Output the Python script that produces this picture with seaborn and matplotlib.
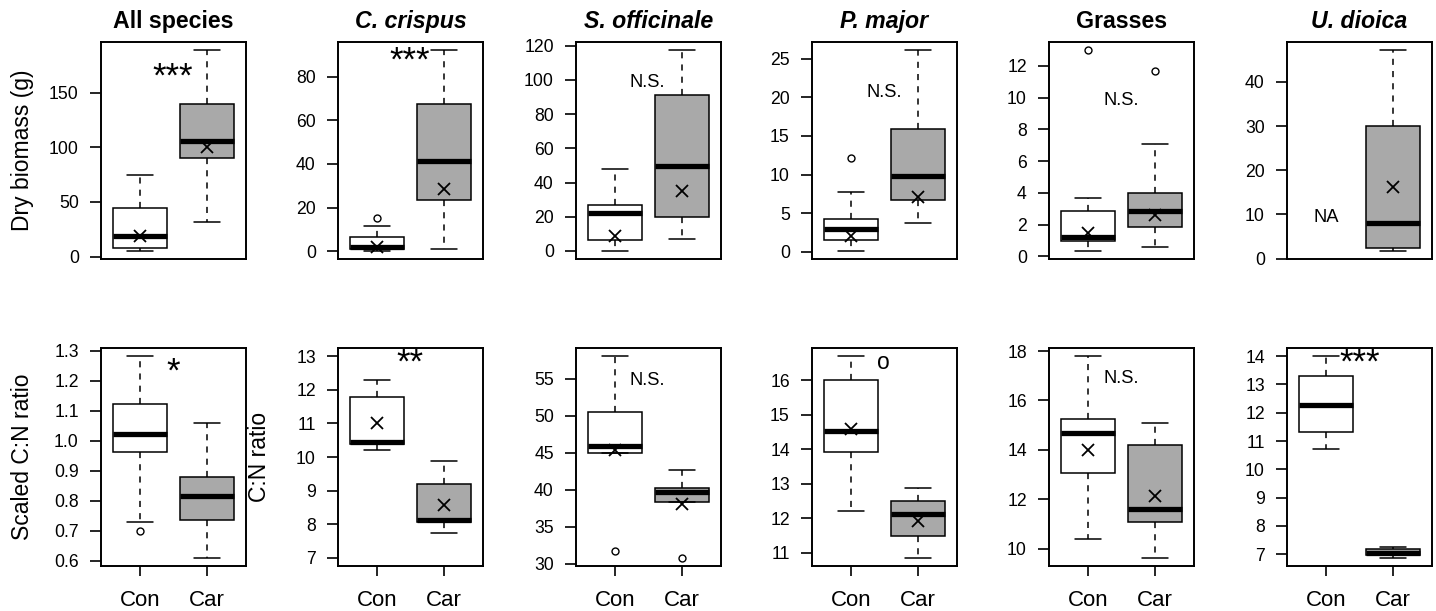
import numpy as np
import pandas as pd
import matplotlib
matplotlib.use("Agg")
import matplotlib.pyplot as plt
import seaborn as sns

# Panels and groups
species = ["All species", "C. crispus", "S. officinale", "P. major", "Grasses", "U. dioica"]
italic = [False, True, True, True, False, True]
groups = ["Con", "Car"]

# Box summaries: [lower whisker, Q1, median, Q3, upper whisker]
mass_con = [[5.2, 7.9, 19.2, 44.2, 75.0],
            [0.15, 1.1, 2.0, 6.6, 11.5],
            [0.0, 6.2, 22.2, 26.9, 48.1],
            [0.13, 1.5, 3.0, 4.2, 7.76],
            [0.34, 0.97, 1.22, 2.84, 3.70],
            None]
mass_car = [[32.0, 90.5, 106.0, 139.6, 189.0],
            [1.1, 23.7, 41.5, 67.5, 92.2],
            [6.8, 19.9, 49.5, 91.4, 117.5],
            [3.75, 6.77, 9.83, 15.95, 26.1],
            [0.59, 1.85, 2.88, 4.01, 7.10],
            [1.73, 2.34, 8.1, 30.1, 47.2]]
mass_con_mean = [19.2, 2.0, 8.6, 2.1, 1.49, None]
mass_car_mean = [100.0, 28.7, 35.3, 7.1, 2.59, 16.2]
mass_con_out = [[], [15.3], [], [12.1], [13.0], []]
mass_car_out = [[], [], [], [], [11.69], []]
mass_notes = ["***", "***", "N.S.", "N.S.", "N.S.", "NA"]
mass_range = [None] * 6

cn_con = [[0.730, 0.963, 1.024, 1.123, 1.283],
          [10.20, 10.40, 10.45, 11.79, 12.29],
          [45.0, 45.0, 45.87, 50.48, 58.03],
          [12.21, 13.93, 14.52, 16.0, 16.70],
          [10.37, 13.05, 14.68, 15.27, 17.80],
          [10.72, 11.32, 12.27, 13.30, 14.0]]
cn_car = [[0.609, 0.736, 0.815, 0.880, 1.061],
          [7.74, 8.07, 8.13, 9.21, 9.88],
          [38.27, 38.27, 39.63, 40.17, 42.6],
          [10.85, 11.49, 12.13, 12.50, 12.87],
          [9.62, 11.08, 11.59, 14.2, 15.08],
          [6.87, 6.99, 7.06, 7.17, 7.24]]
cn_con_mean = [None, 11.0, 45.37, 14.6, 14.0, None]
cn_car_mean = [None, 8.57, 38.05, 11.93, 12.14, None]
cn_con_out = [[0.700], [], [31.67], [], [], []]
cn_car_out = [[], [], [30.77], [], [], []]
cn_notes = ["*", "**", "N.S.", "o", "N.S.", "***"]
cn_range = [None, (7, 13), None, None, None, None]

# y ticks per panel
mass_ticks = [[0, 50, 100, 150], [0, 20, 40, 60, 80], [0, 20, 40, 60, 80, 100, 120],
              [0, 5, 10, 15, 20, 25], [0, 2, 4, 6, 8, 10, 12], [0, 10, 20, 30, 40]]
cn_ticks = [[0.6, 0.7, 0.8, 0.9, 1.0, 1.1, 1.2, 1.3], [7, 8, 9, 10, 11, 12, 13],
            [30, 35, 40, 45, 50, 55], [11, 12, 13, 14, 15, 16],
            [10, 12, 14, 16, 18], [7, 8, 9, 10, 11, 12, 13, 14]]

# annotation placement (x in category units, y in data units)
mass_note_xy = [(0.49, 170), (0.49, 89.8), (0.48, 99.7), (0.49, 20.9), (0.49, 9.94), (0.0, 9.8)]
cn_note_xy = [(0.50, 1.25), (0.49, 12.99), (0.48, 54.95), (0.49, 16.5), (0.49, 16.98), (0.51, 13.98)]

fills = {"Con": "white", "Car": "#a9a9a9"}

sns.set_style("ticks")
plt.rcParams["font.family"] = ["Liberation Sans", "DejaVu Sans"]
plt.rcParams.update({"text.color": "black", "axes.labelcolor": "black",
                     "xtick.color": "black", "ytick.color": "black"})

W, H = 1436, 611
fig = plt.figure(figsize=(W / 100, H / 100), dpi=100)
lefts = [101, 338, 576, 812, 1049, 1287]
aw = 145
rows = [(42, 259), (348, 566)]


def draw_panel(ax, con, car, con_mean, car_mean, con_out, car_out, ticks, note,
               note_xy, yrange, bottom):
    recs = []
    for g, st in zip(groups, [con, car]):
        if st is not None:
            recs += [{"group": g, "value": v} for v in st]
    df = pd.DataFrame(recs)
    sns.boxplot(data=df, x="group", y="value", hue="group", order=groups,
                hue_order=groups, palette=fills, width=0.8, whis=(0, 100),
                linecolor="black", linewidth=1.1, fliersize=0, legend=False,
                medianprops={"linewidth": 3.8},
                whiskerprops={"linestyle": (0, (4, 4))},
                ax=ax)
    # means
    for i, m in enumerate([con_mean, car_mean]):
        if m is not None:
            ax.plot([i], [m], marker="x", ms=8, mew=1.3, color="black", ls="none", zorder=5)
    # outliers
    for i, outs in enumerate([con_out, car_out]):
        if outs:
            ax.plot([i] * len(outs), outs, marker="o", ms=5, mew=1.0, mfc="white",
                    mec="black", ls="none", zorder=5)
    # R-like ranges (4% padding)
    if yrange is None:
        vals = [v for st in [con, car] if st is not None for v in st] + con_out + car_out
        lo, hi = min(vals), max(vals)
    else:
        lo, hi = yrange
    ext = 0.04 * (hi - lo)
    ax.set_ylim(lo - ext, hi + ext)
    ax.set_xlim(-0.58, 1.58)
    ax.set_yticks(ticks)
    ax.set_yticklabels([f"{t:.1f}" if isinstance(t, float) else f"{t}" for t in ticks])
    ax.tick_params(axis="y", labelsize=12.7, length=8, width=1.2, pad=8)
    if bottom:
        ax.set_xticks([0, 1])
        ax.set_xticklabels(groups)
        ax.tick_params(axis="x", labelsize=16, length=7.5, width=1.2, pad=10)
    else:
        ax.set_xticks([])
    ax.set_xlabel("")
    ax.set_ylabel("")
    for s in ax.spines.values():
        s.set_visible(True)
        s.set_linewidth(1.4)
        s.set_color("black")
    # significance note
    if note.startswith("*"):
        fs, dy = 25, -0.18 * 25
    elif note == "o":
        fs, dy = 16.5, 0
    else:
        fs, dy = 13.2, -1.3
    ax.annotate(note, note_xy, xytext=(0, dy), textcoords="offset points",
                ha="center", va="center", fontsize=fs)


for c in range(6):
    for r, (top, bot) in enumerate(rows):
        ax = fig.add_axes([lefts[c] / W, 1 - bot / H, aw / W, (bot - top) / H])
        if r == 0:
            draw_panel(ax, mass_con[c], mass_car[c], mass_con_mean[c], mass_car_mean[c],
                       mass_con_out[c], mass_car_out[c], mass_ticks[c], mass_notes[c],
                       mass_note_xy[c], mass_range[c], False)
            ax.set_title(species[c], fontsize=16.7, fontweight="bold",
                         fontstyle="italic" if italic[c] else "normal", pad=10)
            if c == 0:
                ax.set_ylabel("Dry biomass (g)", fontsize=16.5)
        else:
            draw_panel(ax, cn_con[c], cn_car[c], cn_con_mean[c], cn_car_mean[c],
                       cn_con_out[c], cn_car_out[c], cn_ticks[c], cn_notes[c],
                       cn_note_xy[c], cn_range[c], True)
            if c == 0:
                ax.set_ylabel("Scaled C:N ratio", fontsize=16.5)
            if c == 1:
                ax.set_ylabel("C:N ratio", fontsize=16.5)
        ax.yaxis.set_label_coords(-0.465, 0.5)

fig.savefig("out.png", dpi=100)
